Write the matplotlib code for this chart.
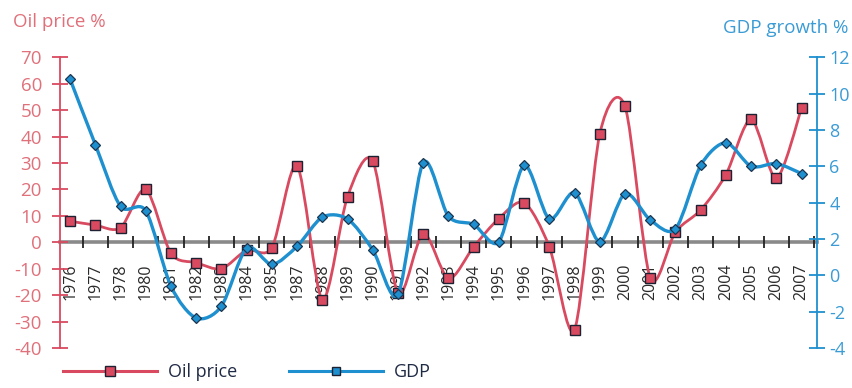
import numpy as np
import matplotlib.pyplot as plt
from matplotlib.path import Path
from matplotlib.patches import PathPatch
from matplotlib.lines import Line2D

plt.rcParams['font.family'] = ['Open Sans', 'DejaVu Sans']
plt.rcParams['axes.unicode_minus'] = False

years = ['1976', '1977', '1978', '1980', '1981', '1982', '1983', '1984', '1985', '1987',
         '1988', '1989', '1990', '1991', '1992', '1993', '1994', '1995', '1996', '1997',
         '1998', '1999', '2000', '2001', '2002', '2003', '2004', '2005', '2006', '2007']

# oil price change, % (left axis)
oil_price = [8, 6.5, 5.5, 20, -4.2, -7.7, -10, -3, -2, 29,
             -21.7, 17.3, 30.7, -19.2, 3.3, -13.7, -1.7, 9, 15, -1.7,
             -33, 41, 51.4, -13.5, 3.9, 12.2, 25.6, 46.5, 24.3, 50.8]

# GDP growth, % (right axis)
gdp_growth = [10.8, 7.2, 3.8, 3.55, -0.6, -2.35, -1.7, 1.5, 0.6, 1.6,
              3.2, 3.1, 1.4, -1.05, 6.2, 3.25, 2.8, 1.85, 6.05, 3.1,
              4.55, 1.85, 4.5, 3.05, 2.55, 6.05, 7.3, 6.0, 6.15, 5.6]

red = '#d94a60'
red_text = '#e0707a'
blue = '#1e90cf'
blue_text = '#3a9bd5'
edge = '#1d2233'


def smooth_path(xs, ys, k=1 / 7):
    # cubic Bezier segments through every point (Catmull-Rom style tangents)
    pts = np.column_stack([xs, ys]).astype(float)
    n = len(pts)
    verts = [pts[0]]
    codes = [Path.MOVETO]
    for i in range(n - 1):
        p0 = pts[i - 1] if i > 0 else pts[i]
        p1 = pts[i]
        p2 = pts[i + 1]
        p3 = pts[i + 2] if i + 2 < n else pts[i + 1]
        verts += [p1 + (p2 - p0) * k, p2 - (p3 - p1) * k, p2]
        codes += [Path.CURVE4] * 3
    return Path(verts, codes)


x = np.arange(len(years))

fig = plt.figure(figsize=(8.52, 3.88), dpi=100)
ax1 = fig.add_axes([60 / 852, 1 - 348 / 388, (816.7 - 60) / 852, (348 - 57.3) / 388])
ax2 = ax1.twinx()

# oil price line on the left axis
ax1.add_patch(PathPatch(smooth_path(x, oil_price), fill=False, edgecolor=red, lw=2.0,
                        capstyle='round', joinstyle='round', zorder=3))
ax1.plot(x, oil_price, ls='none', marker='s', markersize=7.5, markerfacecolor=red,
         markeredgecolor=edge, markeredgewidth=1.0, zorder=4)

# GDP line on the right axis
ax2.add_patch(PathPatch(smooth_path(x, gdp_growth), fill=False, edgecolor=blue, lw=2.4,
                        capstyle='round', joinstyle='round', zorder=3))
ax2.plot(x, gdp_growth, ls='none', marker='D', markersize=5.5, markerfacecolor=blue,
         markeredgecolor='#1b3550', markeredgewidth=0.9, zorder=4)

ax1.set_xlim(-0.4, 29.6)
ax1.set_ylim(-40, 70)
ax2.set_ylim(-4, 12)

# category axis runs along zero oil price
ax1.spines['bottom'].set_position(('data', 0))
ax1.spines['bottom'].set_color('#8a8a8a')
ax1.spines['bottom'].set_linewidth(2.6)
ax1.spines['bottom'].set_zorder(1)
ax1.spines['top'].set_visible(False)
ax1.spines['right'].set_visible(False)
ax1.spines['left'].set_color(red)
ax1.spines['left'].set_linewidth(1.3)

for s in ['top', 'bottom', 'left']:
    ax2.spines[s].set_visible(False)
ax2.spines['right'].set_color(blue)
ax2.spines['right'].set_linewidth(1.3)

ax1.set_xticks(x)
ax1.set_xticklabels(years, rotation=90, fontsize=11.5, color='#2a2a2a')
ax1.set_xticks(np.arange(0.5, 29.6, 1), minor=True)
ax1.tick_params(axis='x', which='major', length=0, pad=15)
ax1.tick_params(axis='x', which='minor', direction='inout', length=8, width=1.3, color='#222222')

ax1.set_yticks(range(-40, 71, 10))
ax1.tick_params(axis='y', direction='inout', length=12, width=1.3, color=red,
                labelcolor=red_text, labelsize=13.5, pad=7)

ax2.set_yticks(range(-4, 13, 2))
ax2.tick_params(axis='y', direction='inout', length=12, width=1.3, color=blue,
                labelcolor=blue_text, labelsize=13, pad=3)

fig.text(13 / 852, 1 - 21.7 / 388, 'Oil price %', color=red_text, fontsize=13.5, va='center')
fig.text(848 / 852, 1 - 28 / 388, 'GDP growth %', color=blue_text, fontsize=13.5,
         va='center', ha='right')

handles = [
    Line2D([], [], color=red, lw=2.2, marker='s', markersize=6.5,
           markerfacecolor=red, markeredgecolor=edge),
    Line2D([], [], color=blue, lw=2.2, marker='s', markersize=5.5,
           markerfacecolor=blue, markeredgecolor=edge),
]
fig.legend(handles, ['Oil price', 'GDP'], loc='center left',
           bbox_to_anchor=(63 / 852, 1 - 372 / 388), ncol=2, frameon=False,
           fontsize=13, labelcolor='#1f2a44', handlelength=5.2, handletextpad=0.6,
           columnspacing=2.9, borderpad=0, borderaxespad=0)

fig.savefig('out.png', dpi=100)
